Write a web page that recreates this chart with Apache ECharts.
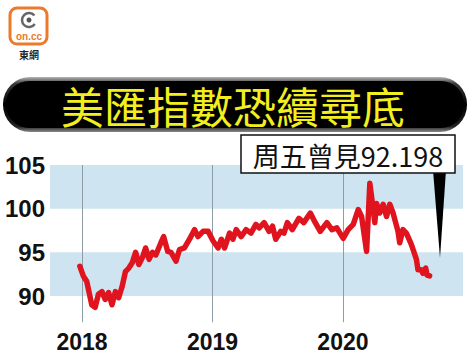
<!DOCTYPE html>
<html>
<head>
<meta charset="utf-8">
<script src="https://cdn.jsdelivr.net/npm/echarts@6/dist/echarts.min.js"></script>
<style>
html,body{margin:0;padding:0;background:#fff;}
#c{width:474px;height:357px;}
</style>
</head>
<body>
<div id="c"></div>
<script>
// ---- data (decimal years, index values) ----
const titleText = '美匯指數恐續尋底';
const noteText = '周五曾見92.198';
const logoText = 'on.cc';
const logoName = '東網';
const yearTicks = [2018, 2019, 2020];
const yTicks = [90, 95, 100, 105];
const bands = [[100, 105], [90, 95]];
const dates = [
  2017.984, 2018.010, 2018.036, 2018.075, 2018.101, 2018.126, 2018.153, 2018.178,
  2018.204, 2018.230, 2018.256, 2018.281, 2018.308, 2018.333, 2018.359, 2018.385,
  2018.411, 2018.436, 2018.463, 2018.488, 2018.514, 2018.540, 2018.566, 2018.605,
  2018.626, 2018.657, 2018.682, 2018.721, 2018.747, 2018.785, 2018.824, 2018.863,
  2018.889, 2018.928, 2018.967, 2019.005, 2019.043, 2019.068, 2019.093, 2019.131,
  2019.157, 2019.182, 2019.220, 2019.258, 2019.295, 2019.333, 2019.358, 2019.396,
  2019.434, 2019.460, 2019.485, 2019.523, 2019.548, 2019.574, 2019.612, 2019.662,
  2019.700, 2019.750, 2019.788, 2019.826, 2019.877, 2019.915, 2019.953, 2020.002,
  2020.040, 2020.079, 2020.117, 2020.143, 2020.181, 2020.206, 2020.232, 2020.244,
  2020.257, 2020.282, 2020.308, 2020.334, 2020.359, 2020.384, 2020.422, 2020.435,
  2020.460, 2020.486, 2020.524, 2020.563, 2020.575, 2020.601, 2020.613, 2020.634,
  2020.644, 2020.664
];
const values = [
  93.4, 92.3, 91.7, 89.0, 88.7, 90.2, 90.5, 89.6,
  90.4, 89.0, 90.5, 89.8, 91.1, 92.8, 93.2, 93.8,
  95.0, 93.6, 94.4, 95.5, 94.2, 95.0, 94.7, 96.1,
  96.8, 95.1, 95.0, 94.0, 95.3, 95.5, 96.5, 97.6,
  96.8, 97.4, 97.4, 96.3, 95.5, 96.5, 95.5, 97.2,
  96.5, 97.6, 96.8, 97.6, 97.2, 98.2, 97.8, 98.4,
  97.4, 98.0, 96.5, 97.4, 97.2, 98.4, 97.6, 98.9,
  98.4, 99.5, 98.4, 97.4, 98.4, 97.6, 97.8, 96.6,
  97.6, 98.2, 99.9, 99.1, 95.1, 102.9, 99.9, 98.4,
  100.6, 99.5, 100.5, 99.1, 100.5, 99.5, 97.4, 96.1,
  97.6, 97.2, 95.9, 94.2, 93.0, 93.0, 92.6, 93.2,
  92.4, 92.3
];

const chart = echarts.init(document.getElementById('c'), null, {renderer: 'svg'});
const seriesData = dates.map((d, i) => [d, values[i]]);

chart.setOption({
  animation: false,
  backgroundColor: '#fff',
  grid: {left: 50, right: 11, top: 165, height: 157.2},
  xAxis: {
    type: 'value', min: 2017.755, max: 2020.92,
    axisLine: {show: false}, axisTick: {show: false}, splitLine: {show: false},
    axisLabel: {
      customValues: yearTicks, margin: 8,
      formatter: v => String(Math.round(v)),
      color: '#111', fontSize: 23, fontWeight: 'bold', fontFamily: 'Liberation Sans'
    }
  },
  yAxis: {
    type: 'value', min: 87, max: 105,
    axisLine: {show: false}, axisTick: {show: false}, splitLine: {show: false},
    axisLabel: {
      customValues: yTicks, margin: 5,
      color: '#111', fontSize: 24, fontWeight: 'bold', fontFamily: 'Liberation Sans'
    }
  },
  series: [{
    type: 'line',
    data: seriesData,
    showSymbol: false,
    lineStyle: {color: '#e0141e', width: 5.5, join: 'round', cap: 'round'},
    z: 5,
    markArea: {
      silent: true,
      itemStyle: {color: '#cfe4f1'},
      data: bands.map(b => [{yAxis: b[0]}, {yAxis: b[1]}])
    },
    markLine: {
      silent: true, symbol: 'none', label: {show: false},
      lineStyle: {color: '#8e9ca6', width: 1, type: 'solid'},
      data: yearTicks.map(y => ({xAxis: y}))
    }
  }],
  graphic: [
    // logo
    {type: 'rect', z: 100, shape: {x: 10, y: 8, width: 37, height: 36, r: 7},
     style: {fill: '#fff', stroke: '#ec7a2c', lineWidth: 3}},
    {type: 'arc', z: 101, shape: {cx: 29, cy: 20, r: 7, startAngle: 0.6, endAngle: 5.6},
     style: {fill: 'none', stroke: '#666', lineWidth: 2.5}},
    {type: 'circle', z: 101, shape: {cx: 29, cy: 20, r: 2.5}, style: {fill: '#555'}},
    {type: 'text', z: 101, x: 29, y: 36,
     style: {text: logoText, fill: '#ec7a2c', font: 'bold 10px "Liberation Sans"', align: 'center', verticalAlign: 'middle'}},
    {type: 'text', z: 101, x: 29, y: 54,
     style: {text: logoName, fill: '#222', font: 'bold 10px "Noto Sans CJK TC"', align: 'center', verticalAlign: 'middle'}},
    // title pill
    {type: 'rect', z: 100, shape: {x: 3, y: 77, width: 464, height: 55, r: 27},
     style: {fill: new echarts.graphic.LinearGradient(0, 0, 0, 1, [
       {offset: 0, color: '#b5b5b5'}, {offset: 0.12, color: '#3a3a3a'},
       {offset: 0.5, color: '#000'}, {offset: 0.9, color: '#222'}, {offset: 1, color: '#8a8a8a'}])}},
    {type: 'rect', z: 101, shape: {x: 6, y: 81, width: 458, height: 47, r: 23},
     style: {fill: '#000'}},
    {type: 'text', z: 102, x: 233, y: 105,
     style: {text: titleText, fill: '#f3ee1e', font: '43px "Noto Sans CJK TC"', align: 'center', verticalAlign: 'middle'}},
    // annotation
    {type: 'polygon', z: 100, shape: {points: [[433, 170], [446, 170], [440, 258]]}, style: {fill: '#000'}},
    {type: 'rect', z: 101, shape: {x: 241, y: 135, width: 214, height: 38},
     style: {fill: '#fff', stroke: '#111', lineWidth: 1.5}},
    {type: 'text', z: 102, x: 348, y: 155,
     style: {text: noteText, fill: '#111', font: '27px "Noto Sans CJK TC"', align: 'center', verticalAlign: 'middle'}}
  ]
});
</script>
</body>
</html>
